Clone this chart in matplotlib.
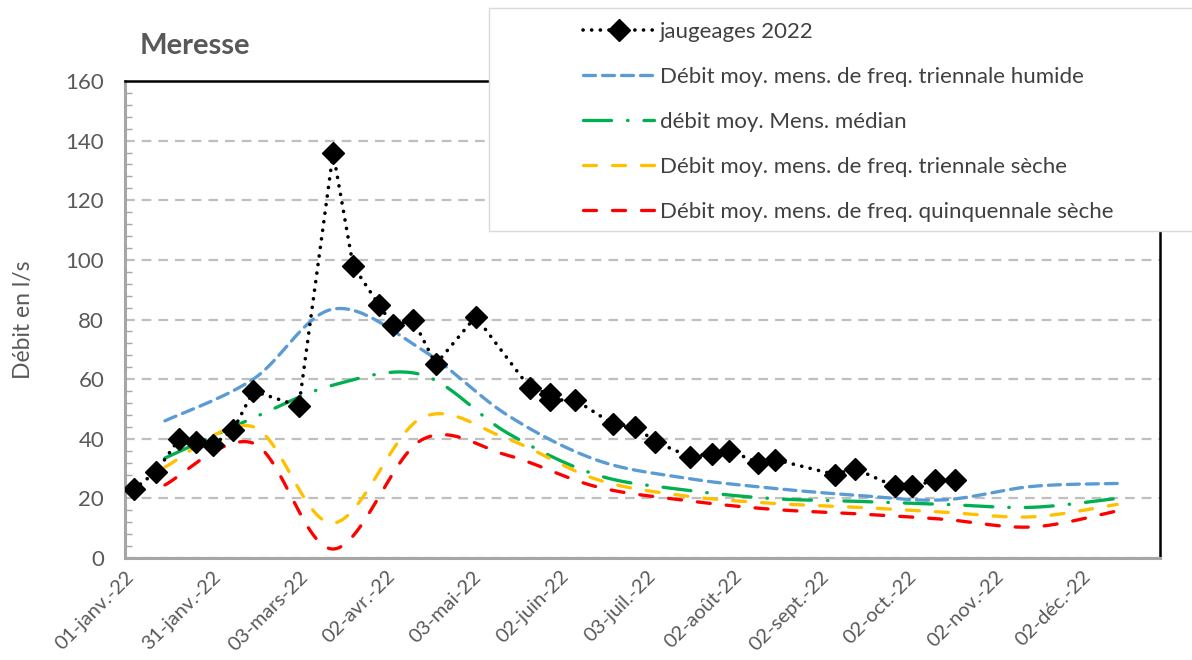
import numpy as np
import matplotlib
matplotlib.use("Agg")
import matplotlib.pyplot as plt
from matplotlib.patches import Rectangle

plt.rcParams['font.family'] = ['Lato', 'DejaVu Sans']
plt.rcParams['lines.scale_dashes'] = False

# jaugeages 2022 (day of year, 0 = 01-janv.-22)
jaug_days = [3, 11, 19, 25, 31, 38, 45, 61, 73, 80, 89, 94, 101, 109, 123, 142,
             149, 149, 158, 171, 179, 186, 198, 206, 212, 222, 228, 249, 256,
             270, 276, 284, 291]
jaug_vals = [23, 29, 40, 39, 38, 43, 56, 51, 136, 98, 85, 78, 80, 65, 81, 57,
             55, 53, 53, 45, 44, 39, 34, 35, 36, 32, 33, 28, 30, 24, 24, 26, 26]

# monthly reference flows (15th of each month)
month_days = [14, 45, 73, 104, 134, 165, 195, 226, 257, 287, 318, 348]
humide = [46, 60, 83.5, 70, 48, 33, 27, 23.5, 21, 19.5, 24, 25]
median = [33.5, 47, 58, 61.5, 42, 28, 23, 20, 19, 18, 17, 20]
seche3 = [30.5, 44, 11.7, 47, 40, 26.5, 21, 18.4, 17, 15.4, 13.8, 18]
seche5 = [24.5, 38.5, 3, 39.6, 34.5, 24, 19.5, 16.4, 14.8, 13, 10.4, 15.8]

tick_days = [0, 30.5, 61, 91.5, 122, 152.5, 183, 213.5, 244, 274.5, 305, 335.5]
tick_labels = ['01-janv.-22', '31-janv.-22', '03-mars-22', '02-avr.-22',
               '03-mai-22', '02-juin-22', '03-juil.-22', '02-août-22',
               '02-sept.-22', '02-oct.-22', '02-nov.-22', '02-déc.-22']


def smooth(x, y, n=30):
	# Excel-like smoothed line: cubic Bezier with Catmull-Rom tangents
	p = np.column_stack([x, y]).astype(float)
	p_ext = np.vstack([p[0], p, p[-1]])
	t = np.linspace(0, 1, n)[:, None]
	out = []
	for i in range(len(p) - 1):
		p0, p1, p2, p3 = p_ext[i], p_ext[i + 1], p_ext[i + 2], p_ext[i + 3]
		c1 = p1 + (p2 - p0) / 6
		c2 = p2 - (p3 - p1) / 6
		seg = (1 - t)**3 * p1 + 3 * (1 - t)**2 * t * c1 + 3 * (1 - t) * t**2 * c2 + t**3 * p2
		out.append(seg if i == 0 else seg[1:])
	out = np.vstack(out)
	return out[:, 0], out[:, 1]


px = 1 / 1.389  # pixel -> point
fig = plt.figure(figsize=(11.92, 6.6), dpi=100)
ax = fig.add_axes([125 / 1192, 1 - 558 / 660, (1160 - 125) / 1192, (558 - 81) / 660])

lw = 3.3 * px
sx, sy = smooth(month_days, humide)
ax.plot(sx, sy, color='#5B9BD5', lw=lw, dashes=(12 * px, 7 * px), dash_capstyle='round',
        label='Débit moy. mens. de freq. triennale humide')
sx, sy = smooth(month_days, median)
ax.plot(sx, sy, color='#00B050', lw=lw, dashes=(28 * px, 16 * px, 0.5 * px, 16 * px),
        dash_capstyle='round', label='débit moy. Mens. médian')
sx, sy = smooth(month_days, seche3)
ax.plot(sx, sy, color='#FFC000', lw=lw, dashes=(13 * px, 16 * px), dash_capstyle='round',
        label='Débit moy. mens. de freq. triennale sèche')
sx, sy = smooth(month_days, seche5)
ax.plot(sx, sy, color='#FF0000', lw=lw, dashes=(13 * px, 16 * px), dash_capstyle='round',
        label='Débit moy. mens. de freq. quinquennale sèche')

ax.plot(jaug_days, jaug_vals, color='black', lw=3.6 * px, dashes=(0.1, 8.5 * px),
        dash_capstyle='round', marker='D', markersize=11.5, zorder=5,
        label='jaugeages 2022')

ax.set_xlim(0, 363)
ax.set_ylim(0, 160)
ax.set_yticks(np.arange(0, 161, 20))
ax.set_yticks(np.arange(0, 161, 4), minor=True)
ax.set_xticks(tick_days)
ax.set_xticklabels(tick_labels, rotation=45, ha='right', rotation_mode='anchor')
ax.tick_params(axis='x', length=0, pad=7, labelsize=14.5, labelcolor='#595959')
ax.tick_params(axis='y', which='major', length=0, pad=15, labelsize=16, labelcolor='#595959')
ax.tick_params(axis='y', which='minor', direction='in', length=5, width=1, color='#A6A6A6')
ax.yaxis.grid(True, color='#BFBFBF', lw=1.6, dashes=(7, 5))
ax.set_axisbelow(True)

for s in ['left', 'bottom']:
	ax.spines[s].set_color('#A6A6A6')
	ax.spines[s].set_linewidth(2.2)
for s in ['top', 'right']:
	ax.spines[s].set_color('black')
	ax.spines[s].set_linewidth(1.8)

ax.set_ylabel('Débit en l/s', fontsize=16.5, color='#595959')
ax.yaxis.set_label_coords(-0.088, 0.5)
fig.text(140 / 1192, 1 - 46 / 660, 'Meresse', fontsize=21, fontweight='bold',
         color='#595959', va='center', ha='left')

# legend box
fig.patches.append(Rectangle((489 / 1192, 1 - 231 / 660), 0.6, (231 - 8) / 660,
                             transform=fig.transFigure, facecolor='white',
                             edgecolor='#D9D9D9', lw=1, zorder=10))
handles, labels = ax.get_legend_handles_labels()
order = [4, 0, 1, 2, 3]
leg = fig.legend([handles[i] for i in order], [labels[i] for i in order],
                 loc='upper left', bbox_to_anchor=(583 / 1192, 1 - 22 / 660),
                 frameon=False, fontsize=16, handlelength=3.2, handletextpad=0.25,
                 labelspacing=1.12, borderpad=0, borderaxespad=0)
leg.set_zorder(11)
for t in leg.get_texts():
	t.set_color('#404040')

fig.savefig('out.png', dpi=100)
